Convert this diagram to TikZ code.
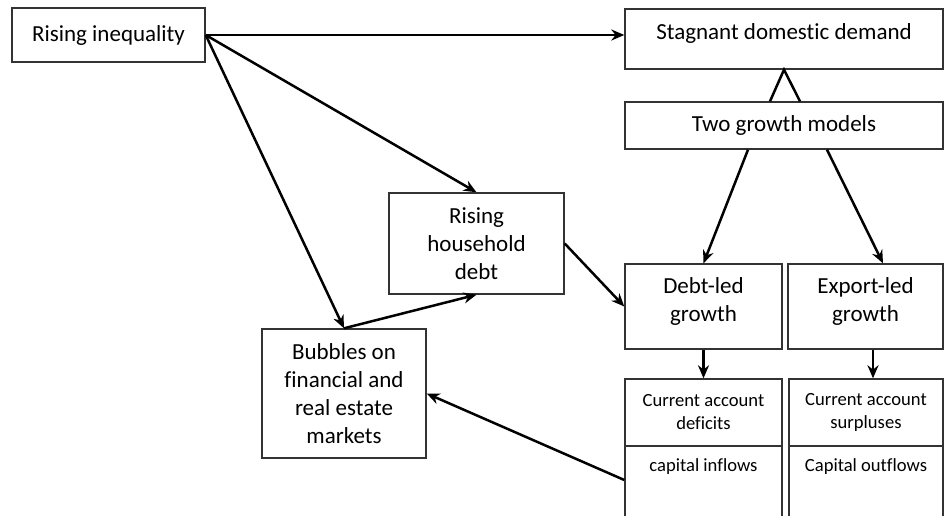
\documentclass[tikz,border=0pt]{standalone}
\usepackage{fontspec}
\setmainfont{Carlito}[RawFeature={-liga;-clig}]
\usetikzlibrary{arrows.meta}
\tikzset{>={Stealth[length=6.5pt,width=5.5pt]}}
\tikzset{
  box/.style={draw=black!80, line width=0.7pt, align=center, inner sep=0pt,
    font=\fontsize{11.5}{14}\selectfont},
  small/.style={font=\fontsize{9.3}{11.5}\selectfont},
  topbox/.style={anchor=north, inner ysep=3.5pt, text height=8.5pt, text depth=24pt, minimum height=40pt},
  link/.style={->, line width=1.25pt}
}

\begin{document}
\begin{tikzpicture}[x=0.5pt, y=-0.5pt]
    \clip (0,0) rectangle (944,515);
    % left side
    \node[box, minimum width=96.5pt, minimum height=27pt] (ineq) at (108.5,35) {Rising inequality};
    \node[box, minimum width=87.5pt, minimum height=50.5pt] (household) at (476.5,243.5) {Rising\\household\\debt};
    \node[box, minimum width=82pt, minimum height=64.5pt] (bubbles) at (344,393.5) {Bubbles on\\financial and\\real estate\\markets};
    % right side
    \node[box, minimum width=159pt, minimum height=30pt, text depth=7pt] (stag) at (784,39) {Stagnant domestic demand};
    \node[box, minimum width=159pt, minimum height=23.5pt] (models) at (784,125.5) {Two growth models};
    \node[box, minimum width=78.5pt, minimum height=42.5pt, text depth=7pt] (debtled) at (703.5,306.5) {Debt-led\\growth};
    \node[box, minimum width=77.5pt, minimum height=42.5pt, text depth=7pt] (exportled) at (865.5,306.5) {Export-led\\growth};
    \node[box, small, minimum width=78.5pt, minimum height=33.5pt] (deficit) at (703.5,412.5) {Current account\\deficits};
    \node[box, small, minimum width=77pt, minimum height=33.5pt] (surplus) at (866,412.5) {Current account\\surpluses};
    \node[box, small, topbox, minimum width=78.5pt] (inflow) at (703.5,446) {capital inflows};
    \node[box, small, topbox, minimum width=77pt] (outflow) at (866,446) {Capital outflows};

    \draw[link] (ineq.east) -- (ineq.east -| stag.west);
    \draw[link] (ineq.east) -- (household.north);
    \draw[link] (ineq.east) -- (bubbles.north);
    \draw[link] (bubbles.north) -- (household.south);
    \draw[link] (household.east) -- (debtled.west);
    \draw[link] ([yshift=-17pt]inflow.north west) -- (bubbles.east);
    \draw[line width=1.25pt] ([xshift=-7pt]models.north) -- (stag.south) -- ([xshift=8pt]models.north);
    \draw[link] ([xshift=-18pt]models.south) -- (debtled.north);
    \draw[link] ([xshift=21.5pt]models.south) -- ([xshift=8.75pt]exportled.north);
    \draw[link] (debtled.south) -- (deficit.north);
    \draw[link] ([xshift=3.75pt]exportled.south) -- ([xshift=3.5pt]surplus.north);
\end{tikzpicture}
\end{document}
